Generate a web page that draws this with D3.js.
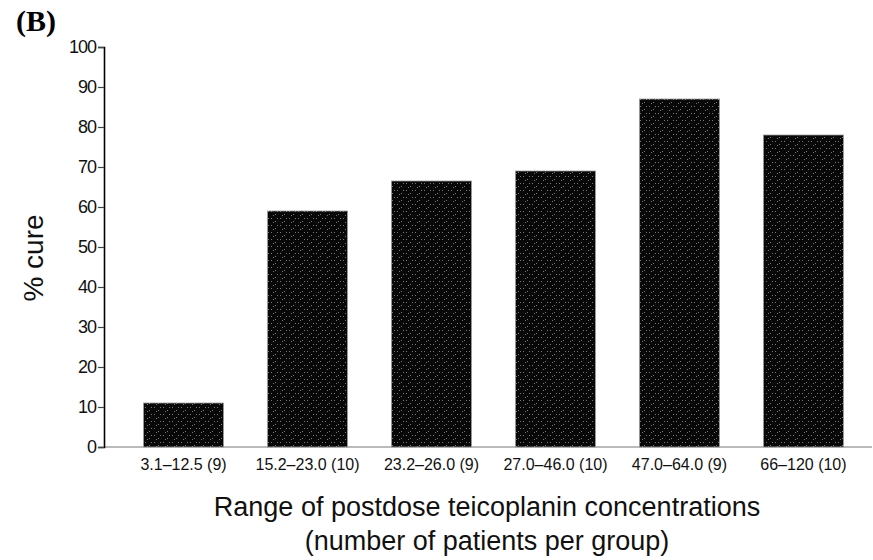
<!DOCTYPE html>
<html>
<head>
<meta charset="utf-8">
<script src="https://cdn.jsdelivr.net/npm/d3@7"></script>
<style>
  body { margin: 0; background: #fff; }
  svg { display: block; }
  .tick text { font-family: "Liberation Sans", Arial, sans-serif; }
</style>
</head>
<body>
<div id="chart"></div>
<script>
// concentration ranges (mg/L) with patients per group
const ranges = ["3.1\u201312.5 (9)", "15.2\u201323.0 (10)", "23.2\u201326.0 (9)",
                "27.0\u201346.0 (10)", "47.0\u201364.0 (9)", "66\u2013120 (10)"];
const cure = [11, 59, 66.5, 69, 87, 78];
const yTicks = [0, 10, 20, 30, 40, 50, 60, 70, 80, 90, 100];

const width = 873, height = 560;
const x0 = 104, yBase = 447, yTop = 47;

const svg = d3.select("#chart").append("svg")
  .attr("width", width)
  .attr("height", height);

// speckled print texture for bars
const defs = svg.append("defs");
const pat = defs.append("pattern")
  .attr("id", "speckle")
  .attr("patternUnits", "userSpaceOnUse")
  .attr("width", 9).attr("height", 7);
pat.append("rect").attr("width", 9).attr("height", 7).attr("fill", "#080808");
[[1, 1], [5, 4], [7, 1], [3, 5]].forEach(p => {
  pat.append("rect").attr("x", p[0]).attr("y", p[1])
    .attr("width", 1).attr("height", 1).attr("fill", "#777");
});

const x = d3.scaleBand()
  .domain(ranges)
  .range([x0, x0 + 124 * 6.282])
  .paddingInner(0.355)
  .paddingOuter(0.319)
  .align(0.5);

const y = d3.scaleLinear()
  .domain([0, 100])
  .range([yBase, yTop]);

// baseline
svg.append("line")
  .attr("x1", x0).attr("x2", 872)
  .attr("y1", y(0)).attr("y2", y(0))
  .attr("stroke", "#777")
  .attr("stroke-width", 1.2);

// bars
svg.append("g")
  .selectAll("rect")
  .data(cure)
  .join("rect")
  .attr("x", (d, i) => x(ranges[i]))
  .attr("y", d => y(d))
  .attr("width", x.bandwidth())
  .attr("height", d => y(0) - y(d))
  .attr("fill", "url(#speckle)")
  .attr("stroke", "#999")
  .attr("stroke-width", 0.8);

// y axis
const yAxis = svg.append("g")
  .attr("transform", `translate(${x0},0)`)
  .call(d3.axisLeft(y).tickValues(yTicks).tickSize(6).tickPadding(2));
yAxis.select(".domain").attr("stroke", "#000").attr("stroke-width", 1.6);
yAxis.selectAll(".tick line").attr("stroke", "#444").attr("stroke-width", 1.2);
yAxis.selectAll(".tick text")
  .attr("font-size", 18)
  .attr("letter-spacing", -1)
  .attr("fill", "#111");

// x tick labels
const xAxis = svg.append("g")
  .attr("transform", `translate(0,${yBase})`)
  .call(d3.axisBottom(x).tickSize(0).tickPadding(12));
xAxis.select(".domain").remove();
xAxis.selectAll(".tick text")
  .attr("font-size", 16)
  .attr("fill", "#111");

// axis titles
svg.append("text")
  .attr("transform", "translate(43,258) rotate(-90)")
  .attr("text-anchor", "middle")
  .attr("font-family", "Liberation Sans, Arial, sans-serif")
  .attr("font-size", 28)
  .attr("fill", "#111")
  .text("% cure");

svg.append("text")
  .attr("x", 487).attr("y", 516)
  .attr("text-anchor", "middle")
  .attr("font-family", "Liberation Sans, Arial, sans-serif")
  .attr("font-size", 27)
  .attr("fill", "#111")
  .text("Range of postdose teicoplanin concentrations");

svg.append("text")
  .attr("x", 487).attr("y", 550)
  .attr("text-anchor", "middle")
  .attr("font-family", "Liberation Sans, Arial, sans-serif")
  .attr("font-size", 27)
  .attr("fill", "#111")
  .text("(number of patients per group)");

// panel letter
svg.append("text")
  .attr("x", 16).attr("y", 31)
  .attr("font-family", "Liberation Serif, Times New Roman, serif")
  .attr("font-weight", "bold")
  .attr("font-size", 30)
  .attr("fill", "#000")
  .text("(B)");
</script>
</body>
</html>
